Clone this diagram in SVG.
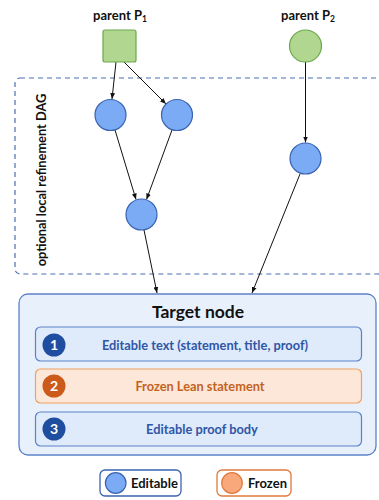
<svg xmlns="http://www.w3.org/2000/svg" width="379" height="500" viewBox="0 0 379 500">
<style>
text{font-family:Lato,"Open Sans","Liberation Sans",sans-serif;font-weight:bold}
.lbl{font-size:13px;fill:#111;text-anchor:middle}
.par{fill:#b0d68f;stroke:#6aa84f;stroke-width:1.2}
.ed{fill:#7aabf4;stroke:#3a63b0;stroke-width:1.2}
.edge{stroke:#111;stroke-width:1;fill:none;marker-end:url(#ah)}
.rowE{fill:#dfeafb;stroke:#5b82c9;stroke-width:1.2}
.rowF{fill:#fce7d8;stroke:#f0a060;stroke-width:1.2}
.numE{fill:#1f4ea0}
.numF{fill:#cc5a1a}
.num{fill:#fff;font-size:14px;text-anchor:middle}
.tE{fill:#2f56a6;font-size:12.8px;text-anchor:middle}
.tF{fill:#c4621f;font-size:12.8px;text-anchor:middle}
</style>
<defs>
<marker id="ah" viewBox="0 0 10 10" refX="10" refY="5" markerWidth="6" markerHeight="6" orient="auto" markerUnits="userSpaceOnUse">
<path d="M0,1 L10,5 L0,9 z" fill="#111"/>
</marker>
</defs>
<g id="dag-region">
<rect x="15" y="78" width="368" height="196" rx="5" fill="none" stroke="#4a6fb0" stroke-width="1.2" stroke-dasharray="5,4"/>
<text transform="translate(46,180) rotate(-90)" font-size="12.8" fill="#111" text-anchor="middle">optional local refinement DAG</text>
</g>
<g id="connectors">
<line class="edge" x1="116" y1="62" x2="112" y2="99"/>
<line class="edge" x1="124" y1="62" x2="166" y2="104"/>
<line class="edge" x1="305.5" y1="62" x2="305.5" y2="142.5"/>
<line class="edge" x1="115" y1="130" x2="136" y2="199.5"/>
<line class="edge" x1="172" y1="130" x2="146.5" y2="199.5"/>
<line class="edge" x1="144" y1="230" x2="157" y2="293"/>
<line class="edge" x1="300" y1="174" x2="252" y2="293"/>
</g>
<g id="parentP1">
<text class="lbl" x="120" y="20">parent P<tspan font-size="8.5" dy="2">1</tspan></text>
<rect class="par" x="103" y="30" width="33" height="32" rx="2"/>
</g>
<g id="parentP2">
<text class="lbl" x="308" y="20">parent P<tspan font-size="8.5" dy="2">2</tspan></text>
<circle class="par" cx="305.5" cy="46" r="16"/>
</g>
<g id="nodeA"><circle class="ed" cx="110.5" cy="115" r="15.5"/></g>
<g id="nodeB"><circle class="ed" cx="177" cy="115" r="15.5"/></g>
<g id="nodeC"><circle class="ed" cx="141.5" cy="214.5" r="15.5"/></g>
<g id="nodeD"><circle class="ed" cx="305.5" cy="158.5" r="15.5"/></g>
<g id="target">
<rect x="19" y="294" width="357" height="161" rx="9" fill="#e8f0fb" stroke="#5b82c9" stroke-width="1.3"/>
<text x="198" y="318" font-size="17.5" fill="#111" text-anchor="middle">Target node</text>
</g>
<g id="row1">
<rect class="rowE" x="35.5" y="327" width="326" height="34" rx="5"/>
<circle class="numE" cx="54" cy="345" r="11.5"/>
<text class="num" x="54" y="350">1</text>
<text class="tE" x="205" y="349.5">Editable text (statement, title, proof)</text>
</g>
<g id="row2">
<rect class="rowF" x="35.5" y="369" width="326" height="34" rx="5"/>
<circle class="numF" cx="54" cy="386" r="11.5"/>
<text class="num" x="54" y="391">2</text>
<text class="tF" x="200" y="390.5">Frozen Lean statement</text>
</g>
<g id="row3">
<rect class="rowE" x="35.5" y="412" width="326" height="34" rx="5"/>
<circle class="numE" cx="54" cy="429" r="11.5"/>
<text class="num" x="54" y="434">3</text>
<text class="tE" x="202" y="433.5">Editable proof body</text>
</g>
<g id="legend-editable">
<rect x="100" y="470" width="81" height="26" rx="5" fill="#fff" stroke="#3a63b0" stroke-width="1.3"/>
<circle class="ed" cx="115.7" cy="483" r="10.3"/>
<text x="131" y="487.5" font-size="13" fill="#111">Editable</text>
</g>
<g id="legend-frozen">
<rect x="217" y="470" width="74" height="26" rx="5" fill="#fff" stroke="#e07a3c" stroke-width="1.3"/>
<circle cx="232" cy="483" r="10.3" fill="#f9a87b" stroke="#e07a3c" stroke-width="1.2"/>
<text x="248" y="487.5" font-size="13" fill="#111">Frozen</text>
</g>
</svg>
